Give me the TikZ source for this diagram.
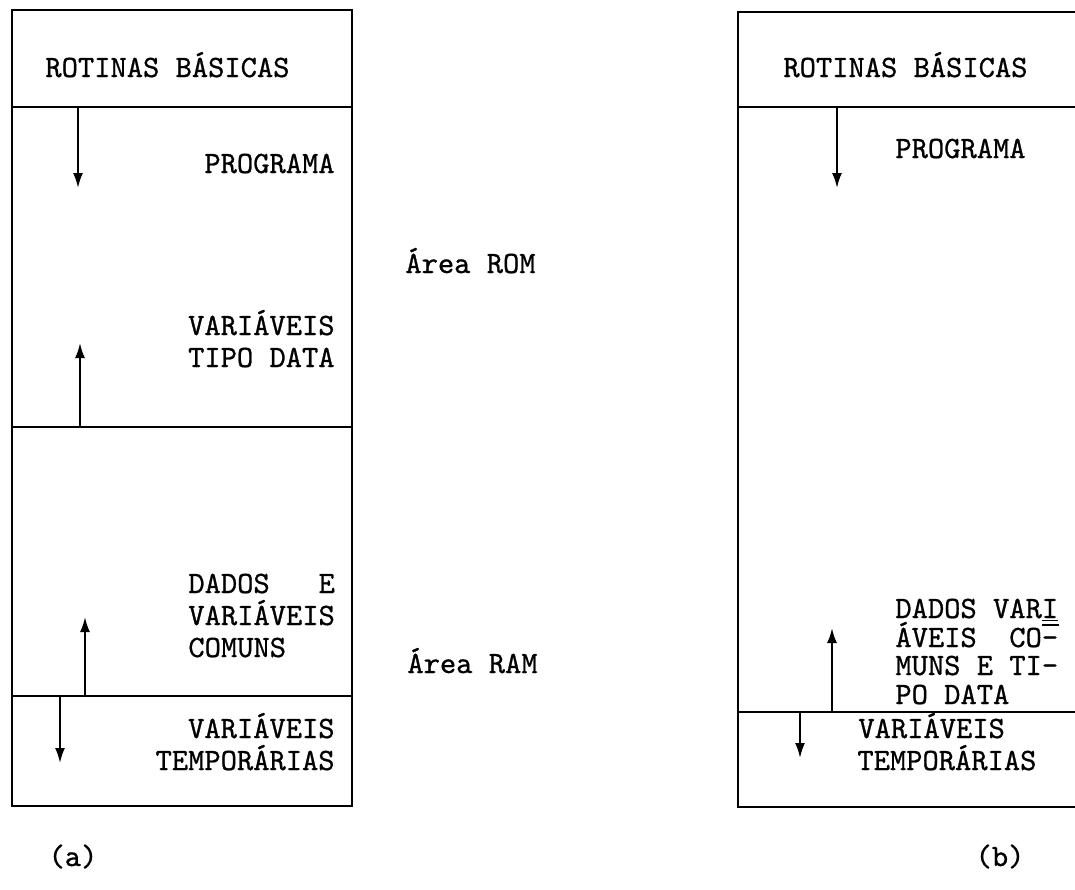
\documentclass[tikz,border=0pt]{standalone}
\usepackage{fontspec}
\newfontfamily\typer{lmmono10-regular.otf}[FakeBold=0.8]
\usetikzlibrary{arrows.meta}
\tikzset{
	wall/.style={line width=1.2pt},
	grows/.style={line width=1pt, -{Latex[length=7.5pt,width=5pt]}},
	txt/.style={inner sep=0pt, font=\typer\fontsize{15.5}{16}\selectfont},
}
\begin{document}
\begin{tikzpicture}[x=0.5pt, y=-0.5pt]
	\useasboundingbox (0,0) rectangle (1075,889);
	% (a)
	\coordinate (a0) at (12,10); \coordinate (a4) at (352,806);
	\draw[wall] (a0) rectangle (a4);
	\draw[wall] (12,107) -- (352,107);
	\draw[wall] (12,427) -- (352,427);
	\draw[wall] (12,696) -- (352,696);
	\coordinate (ap1) at (78,107); \coordinate (ap2) at (78,188);
	\coordinate (ad1) at (80,427); \coordinate (ad2) at (80,343);
	\coordinate (ac1) at (85,696); \coordinate (ac2) at (85,617);
	\coordinate (at1) at (60,696); \coordinate (at2) at (60,763);
	\draw[grows] (ap1) -- (ap2); \draw[grows] (ad1) -- (ad2);
	\draw[grows] (ac1) -- (ac2); \draw[grows] (at1) -- (at2);
	\node[txt, anchor=base west] (arot) at (45,77) {ROTINAS BÁSICAS};
	\node[txt, anchor=base east] (aprog) at (335,173) {PROGRAMA};
	\node[txt, anchor=base east] (adat1) at (335,335) {VARIÁVEIS};
	\node[txt, anchor=base east] (adat2) at (335,367) {TIPO DATA};
	\node[txt, anchor=base west] (acom1) at (188,593) {DADOS\ \ \ E};
	\node[txt, anchor=base west] (acom2) at (188,625) {VARIÁVEIS};
	\node[txt, anchor=base west] (acom3) at (188,657) {COMUNS};
	\node[txt, anchor=base east] (atmp1) at (335,738) {VARIÁVEIS};
	\node[txt, anchor=base east] (atmp2) at (335,770) {TEMPORÁRIAS};
	\node[txt, anchor=base] (acap) at (73,866) {(a)};
	% areas
	\node[txt, anchor=base west] (rom) at (405,273) {Área ROM};
	\node[txt, anchor=base west] (ram) at (407,673) {Área RAM};
	% (b)
	\coordinate (b0) at (738,12); \coordinate (b3) at (738,807);
	\draw[wall] (1075,12) -- (b0) -- (b3) -- (1075,807);
	\draw[wall] (738,107) -- (1075,107);
	\draw[wall] (738,712) -- (1075,712);
	\coordinate (bp1) at (837,107); \coordinate (bp2) at (837,188);
	\coordinate (bc1) at (832,712); \coordinate (bc2) at (832,628);
	\coordinate (bt1) at (800,712); \coordinate (bt2) at (800,758);
	\draw[grows] (bp1) -- (bp2); \draw[grows] (bc1) -- (bc2); \draw[grows] (bt1) -- (bt2);
	\node[txt, anchor=base west] (brot) at (783,77) {ROTINAS BÁSICAS};
	\node[txt, anchor=base west] (bprog) at (895,158) {PROGRAMA};
	\node[txt, anchor=base west] (bcom1) at (895,618) {DADOS VAR\underline{I}};
	\node[txt, anchor=base west] (bcom2) at (895,647) {ÁVEIS\ \ CO\rlap{\raisebox{1.6ex}{\rule{0.55em}{0.6pt}}}-};
	\node[txt, anchor=base west] (bcom3) at (895,675) {MUNS E TI-};
	\node[txt, anchor=base west] (bcom4) at (895,704) {PO DATA};
	\node[txt, anchor=base west] (btmp1) at (858,738) {VARIÁVEIS};
	\node[txt, anchor=base west] (btmp2) at (857,770) {TEMPORÁRIAS};
	\node[txt, anchor=base] (bcap) at (1000,866) {(b)};
\end{tikzpicture}
\end{document}
